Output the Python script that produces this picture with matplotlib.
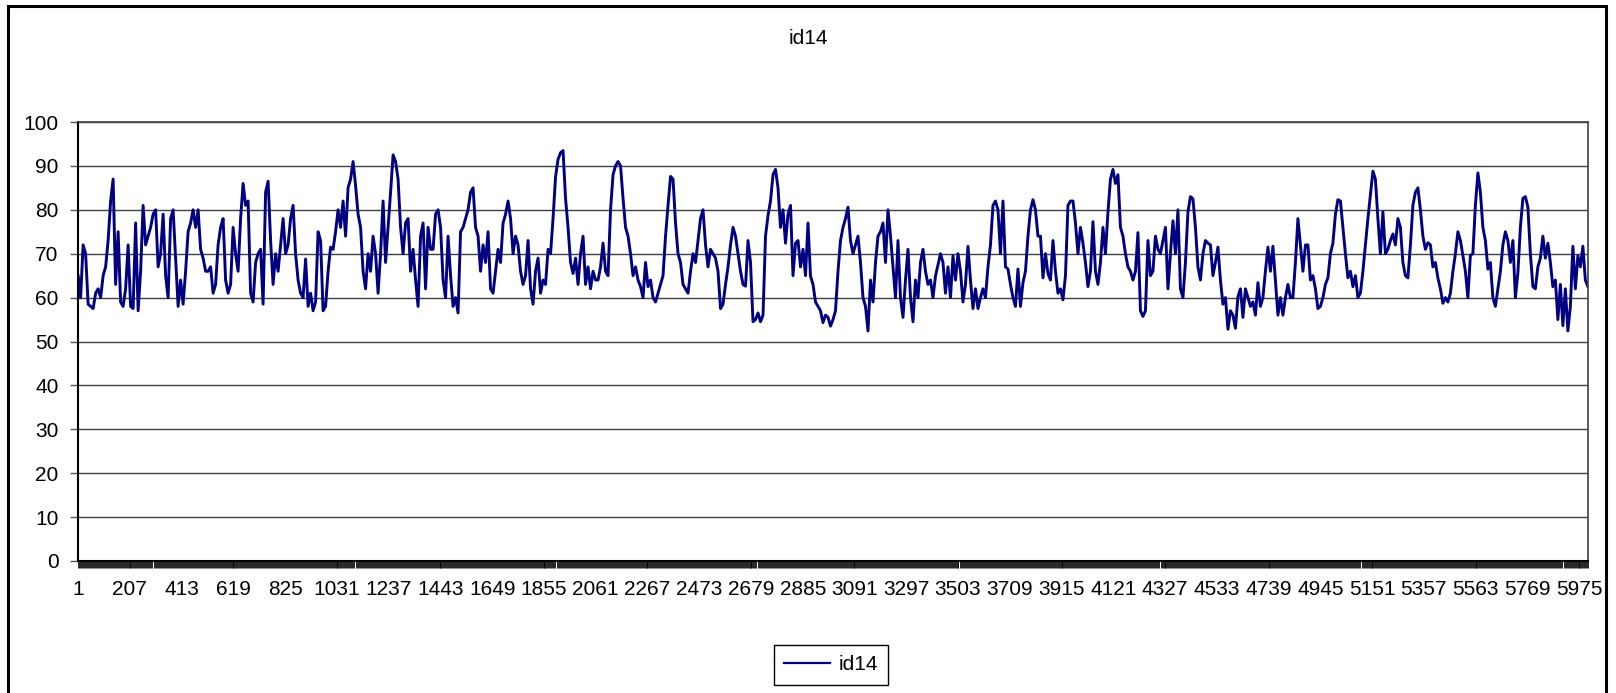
import numpy as np
import matplotlib
matplotlib.use("Agg")
import matplotlib.pyplot as plt
from matplotlib.patches import Rectangle

plt.rcParams['font.family'] = ['Liberation Sans', 'DejaVu Sans']

# ---- data ----
n_samples = 6010
series_name = "id14"

# readings on a coarse grid (every ~20 samples)
part1 = [65, 72, 58.5, 57.5, 62, 65, 73, 87, 75, 58, 72, 57.5, 57, 81, 74, 79,
         67, 79, 60, 80, 58, 58.5, 75, 80, 80, 69, 66, 61, 72, 78, 61, 76, 66,
         86, 82, 59, 70, 58.5, 86.5, 63, 66, 78, 72, 81, 64, 60, 58, 57, 75, 57,
         66, 71, 80, 82, 85, 91, 79, 66, 70, 74, 61, 82, 76, 92.5, 87, 70, 78,
         71, 58, 77, 76, 71, 80, 64, 74, 58, 56.5, 76, 80, 85, 74]
part2 = [72, 75, 61, 71, 77, 82, 70, 72, 63, 73, 58.5, 69, 64, 71, 78, 91.5,
         93.5, 76, 65.5, 63, 74, 67, 66, 64, 72.4, 65, 88, 91, 82.6, 74, 65, 64,
         60, 62.5, 60, 61, 65, 81, 87, 70, 63, 61, 70, 73, 80, 67, 70, 66, 58.5,
         67, 76, 70, 63, 73, 54.5, 56.5, 56, 78.7, 88, 85, 80, 79, 65, 73, 71, 77,
         63, 58, 54.3, 55.5, 55, 66, 76, 80.6, 70, 74, 60, 52.4, 59, 74]
part3 = [77, 80, 67, 73, 55.5, 71, 54.5, 60, 71, 63, 60, 67.5, 68, 67, 69.5, 70,
         59, 71.7, 57.5, 57.5, 62, 67, 81, 80, 82, 66.5, 60, 66.5, 63.4, 74, 82.3,
         74, 64.5, 65.5, 73, 61, 59.5, 81, 82, 70, 72.4, 62.5, 77.3, 63, 76, 79.5,
         89.2, 88, 74, 67, 64, 74.8, 55.7, 73, 66, 71, 73, 62, 77.5, 80, 60, 79.5,
         82.5, 67, 70, 72.4, 65, 71.5, 58.5, 52.8, 56, 60.2, 55.5, 60, 59, 63.4,
         60, 71.5, 71.7, 56]
part4 = [56, 63, 60, 78, 66, 72, 65, 57.5, 60, 64.5, 72.4, 82.3, 76, 64.5, 62.5,
         60, 66, 78, 88.8, 78, 79.5, 71, 74.5, 78, 68, 64.5, 81, 85, 74, 72.5, 67,
         64.5, 58.7, 59, 66, 75, 69.6, 60, 70, 88.4, 76, 66.5, 60, 62, 72, 73, 73,
         65.6, 82.6, 80.6, 62.5, 67, 74, 72.4, 62.5, 55, 53.6, 52.4, 71.7, 69.5,
         71.7, 62.5]

# readings taken half way between the grid readings above
half1 = [60, 70, 58, 61, 60, 67, 82, 63, 59, 62, 58, 77, 66, 72, 76, 80, 70, 65,
         78, 69, 64, 66, 77, 76, 71, 66, 67, 63, 76, 64, 63, 70, 78, 81, 61, 68,
         71, 84, 73, 70, 72, 70, 78, 70, 61, 68.8, 61, 59, 73, 58, 71.5, 75, 76,
         74, 87, 85.5, 76, 62, 66, 70, 70, 68, 84, 91, 76, 77, 66, 64, 74, 62, 71,
         79, 76, 60, 65, 60, 75, 78, 84, 76]
half2 = [66, 68, 62, 66, 68, 79, 78, 74, 66, 65, 62, 66, 61, 63, 70, 87.5, 93,
         82.6, 68, 69, 70, 63, 62, 64, 67, 66, 80, 90, 90, 76, 70, 67, 62.5, 68,
         64, 59, 63, 74, 87.6, 77, 68, 62, 66, 68, 78, 72, 71, 69, 57.5, 63, 72,
         74, 66, 62.6, 68, 55, 54.5, 74, 82, 89.2, 76, 72.4, 81, 72.4, 67, 65,
         64.9, 59, 57, 56, 53.5, 57, 73, 78, 73, 72, 68, 58, 64, 68]
half3 = [75, 68, 74, 60, 60, 64, 60, 64, 68, 66, 64, 64.9, 70, 61, 60, 64, 66,
         63, 64, 62, 60, 60, 72, 82, 70, 67, 63, 58, 58, 66, 80, 80, 74, 70, 64,
         66, 62, 65, 82, 77, 76, 68, 66, 66, 68, 70, 87, 86, 76, 70, 66, 66, 57,
         57, 65, 74, 70, 76, 70, 70, 62, 68, 83, 76, 64, 73, 72, 68, 64, 60, 57,
         53, 62, 62, 58, 56, 58, 66, 66, 64]
half4 = [60, 60, 60, 68, 72, 72, 64, 62, 58, 63, 70, 79, 82, 70, 66, 65, 61, 72,
         83.5, 87, 70, 70, 73, 72, 76, 65, 72, 84, 80, 71, 72, 68, 62, 60, 61, 70,
         73, 66, 69.6, 81, 84, 73, 68, 58, 66, 75, 68, 60, 76, 83, 70, 62, 69, 69,
         68, 64, 63, 62, 58, 62, 67, 64]

grid = part1 + part2 + part3 + part4
half = half1 + half2 + half3 + half4
id14 = []
for g, h in zip(grid, half):
    id14 += [g, h]
id14.append(grid[-1])

y_ticks = list(range(0, 101, 10))
x_label_step = 206

# ---- figure ----
W, H = 1616, 693
fig = plt.figure(figsize=(W / 100, H / 100), dpi=100)
ax = fig.add_axes([78 / W, 1 - 561 / H, (1588 - 78) / W, (561 - 122) / H])

xs = np.linspace(1, n_samples, len(id14))
ax.plot(xs, id14, color='#000080', lw=2.1, label=series_name)

ax.set_xlim(0.5, n_samples + 0.5)
ax.set_ylim(0, 100)
ax.set_yticks(y_ticks)
ax.set_yticklabels([str(v) for v in y_ticks], fontsize=15)

major = np.arange(1, n_samples + 1, x_label_step)
ax.set_xticks(major)
ax.set_xticklabels([str(v) for v in major], fontsize=15)
ax.set_xticks(np.arange(1, n_samples + 1, 4), minor=True)
ax.tick_params(axis='x', which='both', direction='out', length=5, width=0.6,
               color='black', pad=9)
ax.tick_params(axis='y', direction='out', length=6, width=1, color='#555555', pad=8)

ax.grid(axis='y', color='#404040', lw=1.0)
ax.set_axisbelow(True)
for side in ['top', 'right']:
    ax.spines[side].set_color('#404040')
    ax.spines[side].set_linewidth(1.2)
for side in ['left', 'bottom']:
    ax.spines[side].set_color('black')
    ax.spines[side].set_linewidth(1.5)

fig.text(0.5, 1 - 38 / H, "id14", ha='center', va='center', fontsize=15)

fig.legend(loc='center', bbox_to_anchor=(831 / W, 1 - 665 / H), fontsize=15,
           frameon=True, fancybox=False, edgecolor='black', framealpha=1,
           handlelength=2.2, borderpad=0.5, handletextpad=0.4)
leg = fig.legends[0]
leg.get_frame().set_linewidth(1.0)
leg.get_lines()[0].set_linewidth(1.6)

# outer chart border (bottom edge falls outside the image)
fig.add_artist(Rectangle((8 / W, -0.05), (1606 - 8) / W, 1.05 - 6 / H,
                         transform=fig.transFigure, fill=False, lw=2.2,
                         edgecolor='black'))

fig.savefig("out.png", dpi=100)
